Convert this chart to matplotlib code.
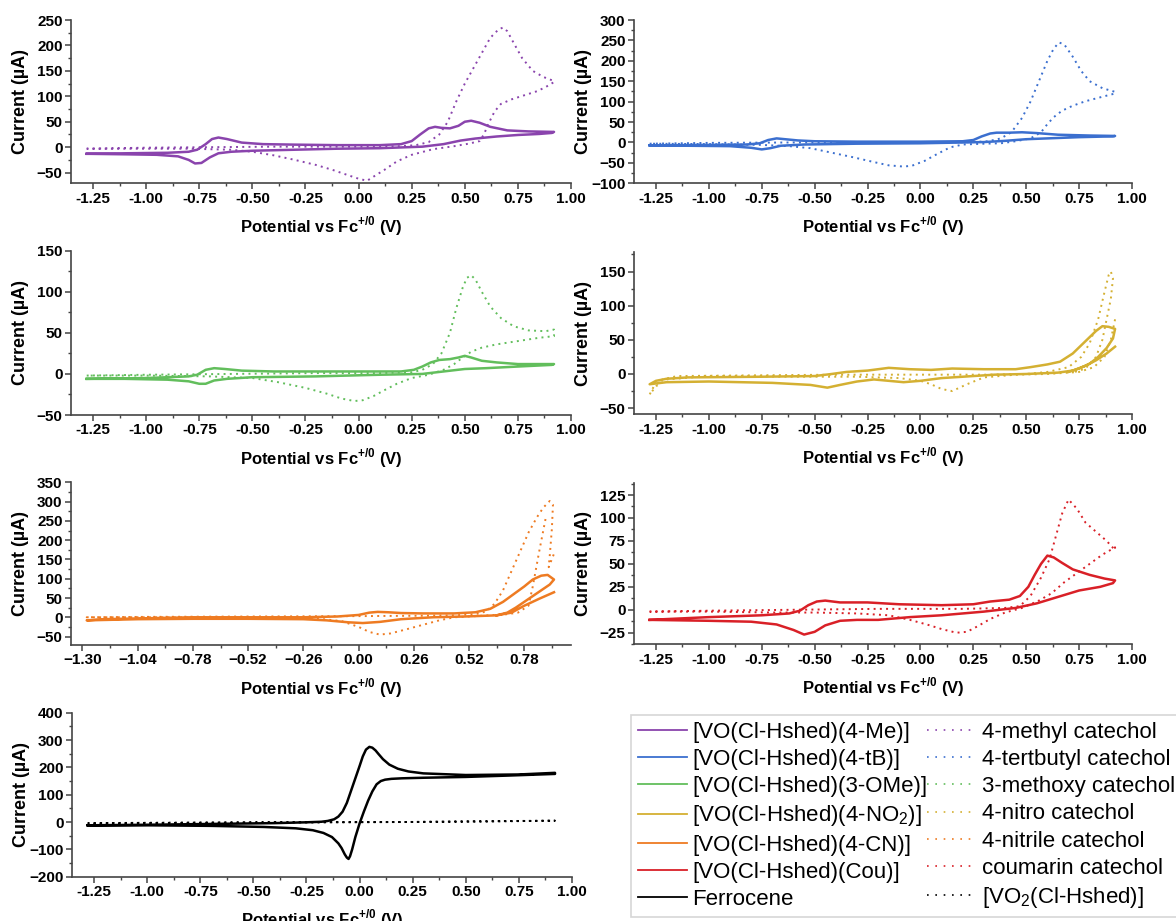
import matplotlib
matplotlib.use("Agg")
import matplotlib.pyplot as plt
from matplotlib.lines import Line2D
from matplotlib.ticker import MultipleLocator, AutoMinorLocator

plt.rcParams['font.family'] = ['Liberation Sans', 'DejaVu Sans']
plt.rcParams['mathtext.fontset'] = 'custom'
plt.rcParams['mathtext.rm'] = 'Liberation Sans'
plt.rcParams['mathtext.bf'] = 'Liberation Sans:bold'

# ---- data (potential V vs Fc, current uA), traced along each CV loop ----
# 4-Me
me_E = [-1.28, -1.1, -0.9, -0.8, -0.76, -0.72, -0.69, -0.66, -0.62, -0.55, -0.45, -0.3, -0.1, 0.1, 0.2, 0.25,
        0.29, 0.33, 0.36, 0.39, 0.43, 0.47, 0.5, 0.53, 0.57, 0.62, 0.7, 0.8, 0.92,
        0.91, 0.85, 0.75, 0.65, 0.55, 0.48, 0.4, 0.3, 0.1, -0.1, -0.3, -0.5, -0.6, -0.66, -0.7, -0.74, -0.77,
        -0.8, -0.85, -0.95, -1.1, -1.28]
me_I = [-13, -12, -11, -9, -5, 6, 16, 19, 16, 9, 6, 5, 4, 4, 6, 12,
        25, 37, 40, 38, 37, 42, 50, 52, 48, 40, 33, 31, 30,
        28, 26, 24, 21, 17, 13, 6, 1, -2, -3, -5, -7, -9, -12, -20, -31, -32,
        -25, -18, -15, -14, -13]
me_cat_E = [-1.28, -1.0, -0.7, -0.4, -0.1, 0.1, 0.2, 0.27, 0.33, 0.38, 0.42, 0.46, 0.5, 0.54, 0.58, 0.62, 0.66,
            0.68, 0.7, 0.73, 0.77, 0.82, 0.87, 0.92,
            0.92, 0.88, 0.84, 0.78, 0.72, 0.67, 0.64, 0.61, 0.59, 0.57, 0.52, 0.45, 0.35, 0.25, 0.18, 0.12, 0.07,
            0.04, 0.0, -0.05, -0.12, -0.2, -0.3, -0.4, -0.5, -0.6, -0.8, -1.0, -1.28]
me_cat_I = [-3, -1, 0, 1, 1, 1, 2, 4, 10, 25, 50, 90, 125, 155, 185, 215, 232,
            235, 228, 205, 175, 150, 138, 130,
            128, 118, 110, 102, 94, 85, 70, 45, 25, 12, 7, 2, -4, -15, -28, -45, -58,
            -66, -62, -55, -45, -35, -25, -16, -9, -5, -3, -3, -3]

# 4-tB
tb_E = [-1.28, -1.0, -0.82, -0.76, -0.72, -0.68, -0.64, -0.58, -0.5, -0.3, 0.0, 0.2, 0.25, 0.29, 0.33, 0.36,
        0.42, 0.48, 0.55, 0.65, 0.8, 0.92,
        0.91, 0.75, 0.6, 0.5, 0.4, 0.3, 0.2, 0.0, -0.3, -0.55, -0.66, -0.71, -0.75, -0.8, -0.9, -1.1, -1.28]
tb_I = [-7, -6, -5, -2, 6, 10, 8, 5, 3, 2, 2, 3, 6, 15, 22, 24,
        24, 25, 23, 19, 17, 16,
        15, 13, 10, 8, 4, 1, 0, -2, -3, -5, -8, -14, -17, -13, -9, -8, -7]
tb_cat_E = [-1.28, -1.0, -0.6, -0.2, 0.1, 0.25, 0.32, 0.38, 0.43, 0.48, 0.52, 0.56, 0.6, 0.63, 0.655, 0.68,
            0.72, 0.76, 0.8, 0.86, 0.92,
            0.92, 0.86, 0.78, 0.72, 0.67, 0.63, 0.6, 0.57, 0.52, 0.45, 0.38, 0.3, 0.2, 0.14, 0.08, 0.02, -0.04,
            -0.08, -0.15, -0.22, -0.32, -0.42, -0.52, -0.62, -0.75, -1.0, -1.28]
tb_cat_I = [-3, -1, 0, 0, 0, 1, 3, 10, 25, 60, 100, 150, 200, 230, 245, 240,
            210, 175, 150, 133, 124,
            120, 112, 101, 90, 78, 62, 45, 25, 10, 3, -2, -3, -5, -12, -28, -45, -57,
            -59, -56, -48, -36, -25, -14, -9, -6, -4, -3]

# 3-OMe
ome_E = [-1.28, -1.0, -0.8, -0.76, -0.72, -0.68, -0.63, -0.55, -0.4, -0.1, 0.2, 0.26, 0.3, 0.34, 0.38, 0.43,
         0.47, 0.5, 0.53, 0.58, 0.65, 0.75, 0.92,
         0.91, 0.75, 0.6, 0.5, 0.4, 0.3, 0.1, -0.2, -0.5, -0.62, -0.68, -0.72, -0.75, -0.8, -0.9, -1.1, -1.28]
ome_I = [-6, -5, -3, -1, 5, 7, 6, 4, 3, 3, 3, 5, 9, 14, 17, 18,
         20, 22, 20, 16, 14, 12, 12,
         11, 9, 7, 6, 3, 0, -1, -3, -4, -6, -8, -12, -12, -9, -7, -6, -6]
ome_cat_E = [-1.28, -1.0, -0.6, -0.2, 0.1, 0.25, 0.3, 0.35, 0.39, 0.43, 0.46, 0.49, 0.51, 0.53, 0.55, 0.58,
             0.62, 0.67, 0.73, 0.8, 0.88, 0.92,
             0.92, 0.85, 0.75, 0.65, 0.58, 0.53, 0.49, 0.45, 0.4, 0.33, 0.25, 0.18, 0.12, 0.07, 0.02, -0.02,
             -0.08, -0.15, -0.25, -0.38, -0.5, -0.7, -1.0, -1.28]
ome_cat_I = [-2, -1, 0, 1, 1, 2, 5, 12, 25, 50, 80, 105, 117, 120, 115, 100,
             82, 68, 58, 53, 52, 54,
             46, 44, 40, 36, 32, 27, 20, 12, 5, -1, -5, -12, -20, -27, -32, -33,
             -30, -24, -17, -10, -5, -3, -2, -2]

# 4-NO2
no2_E = [0.92, 0.88, 0.83, 0.78, 0.72, 0.65, 0.5, 0.35, 0.25, 0.1, 0.0, -0.08, -0.15, -0.22, -0.3, -0.38,
         -0.44, -0.52, -0.7, -1.0, -1.2, -1.28,
         -1.25, -1.2, -1.1, -0.75, -0.5, -0.42, -0.35, -0.25, -0.15, -0.05, 0.05, 0.15, 0.3, 0.45, 0.52, 0.6,
         0.66, 0.72, 0.78, 0.83, 0.86, 0.89, 0.92,
         0.91, 0.88, 0.84, 0.8, 0.75, 0.7]
no2_I = [40, 30, 20, 12, 5, 2, 0, -1, -3, -6, -10, -12, -10, -8, -11, -16,
         -20, -16, -13, -11, -12, -15,
         -10, -7, -5, -4, -3, 0, 3, 5, 9, 7, 6, 8, 7, 7, 10, 14,
         18, 30, 48, 63, 70, 69, 66,
         52, 38, 25, 15, 8, 3]
no2_cat_E = [0.92, 0.9, 0.87, 0.82, 0.75, 0.6, 0.45, 0.3, 0.22, 0.15, 0.1, 0.05, 0.0, -0.1, -0.3, -0.6, -1.0,
             -1.2, -1.25, -1.28,
             -1.26, -1.22, -1.15, -0.8, -0.4, 0.0, 0.3, 0.5, 0.6, 0.7, 0.76, 0.8, 0.84, 0.87, 0.89, 0.9, 0.91,
             0.9, 0.88, 0.86, 0.83, 0.78, 0.72]
no2_cat_I = [80, 50, 25, 10, 3, 0, -1, -5, -15, -25, -22, -15, -10, -6, -4, -4, -3,
             -8, -18, -30,
             -18, -8, -3, -2, -1, -1, -1, 0, 3, 10, 25, 45, 80, 120, 145, 150, 140,
             110, 80, 50, 25, 8, 2]

# 4-CN
cn_E = [0.92, 0.85, 0.78, 0.72, 0.65, 0.5, 0.35, 0.2, 0.1, 0.02, -0.05, -0.15, -0.26, -0.52, -0.78, -1.04, -1.28,
        -1.2, -1.04, -0.78, -0.52, -0.26, -0.1, 0.0, 0.05, 0.09, 0.14, 0.2, 0.3, 0.45, 0.55, 0.62, 0.68, 0.73,
        0.78, 0.82, 0.86, 0.89, 0.92,
        0.9, 0.86, 0.82, 0.78, 0.74, 0.7, 0.65]
cn_I = [65, 48, 30, 12, 5, 2, 0, -5, -12, -15, -13, -8, -5, -4, -4, -5, -8,
        -5, -3, 0, 0, 0, 2, 6, 12, 14, 13, 11, 10, 10, 13, 22, 40, 60,
        80, 98, 108, 110, 98,
        85, 70, 55, 40, 25, 12, 5]
cn_cat_E = [0.88, 0.85, 0.82, 0.8, 0.75, 0.7, 0.55, 0.45, 0.38, 0.3, 0.22, 0.15, 0.1, 0.05, 0.0, -0.08, -0.2,
            -0.5, -1.0, -1.28,
            -1.0, -0.5, 0.0, 0.3, 0.45, 0.55, 0.6, 0.64, 0.68, 0.72, 0.76, 0.8, 0.84, 0.87, 0.9, 0.915,
            0.91, 0.9, 0.895, 0.92]
cn_cat_I = [255, 170, 80, 30, 12, 8, 3, 0, -8, -20, -32, -42, -45, -38, -25, -10, -3,
            -1, 0, 0,
            1, 2, 3, 4, 5, 8, 15, 35, 70, 120, 170, 220, 260, 285, 302, 292,
            230, 160, 130, 165]

# Cou
cou_E = [-1.28, -1.0, -0.75, -0.62, -0.57, -0.53, -0.49, -0.45, -0.38, -0.25, -0.1, 0.1, 0.25, 0.33, 0.42, 0.47,
         0.51, 0.54, 0.57, 0.6, 0.63, 0.67, 0.72, 0.8, 0.87, 0.92,
         0.91, 0.85, 0.75, 0.65, 0.55, 0.45, 0.3, 0.1, -0.05, -0.2, -0.3, -0.38, -0.45, -0.5, -0.55, -0.6, -0.68,
         -0.8, -1.0, -1.28]
cou_I = [-11, -8, -6, -4, -1, 5, 9, 10, 8, 8, 6, 5, 6, 9, 11, 15,
         25, 38, 50, 59, 57, 51, 44, 38, 34, 32,
         29, 25, 21, 14, 7, 2, -2, -6, -8, -11, -11, -12, -17, -24, -27, -22, -16,
         -13, -12, -11]
cou_cat_E = [-1.28, -1.0, -0.6, -0.2, 0.2, 0.4, 0.47, 0.52, 0.57, 0.61, 0.64, 0.67, 0.7, 0.74, 0.78, 0.83, 0.88, 0.92,
             0.92, 0.86, 0.8, 0.74, 0.68, 0.62, 0.56, 0.48, 0.4, 0.33, 0.27, 0.22, 0.17, 0.1, 0.03, -0.05, -0.15,
             -0.3, -0.5, -0.7, -1.0, -1.28]
cou_cat_I = [-2, -1, 0, 1, 1, 2, 4, 15, 35, 55, 80, 105, 120, 110, 95, 85, 75, 65,
             68, 60, 50, 40, 30, 18, 10, 2, -3, -10, -18, -24, -25, -21, -16, -11, -6,
             -4, -3, -3, -2, -2]

# Ferrocene / VO2
fc_E = [-1.28, -1.0, -0.6, -0.4, -0.25, -0.18, -0.15, -0.12, -0.1, -0.08, -0.06, -0.04, -0.02, 0.0, 0.015,
        0.03, 0.046, 0.06, 0.075, 0.09, 0.11, 0.14, 0.18, 0.23, 0.3, 0.4, 0.5, 0.75, 0.92,
        0.92, 0.7, 0.5, 0.3, 0.2, 0.15, 0.12, 0.1, 0.08, 0.06, 0.04, 0.02, 0.0, -0.02, -0.035, -0.045, -0.052,
        -0.06, -0.07, -0.085, -0.1, -0.13, -0.17, -0.22, -0.3, -0.45, -0.7, -1.0, -1.28]
fc_I = [-12, -10, -6, -4, -1, 1, 4, 10, 20, 38, 70, 115, 160, 205, 240,
        265, 275, 272, 262, 248, 230, 210, 195, 185, 178, 175, 172, 174, 180,
        176, 170, 165, 162, 160, 158, 155, 150, 138, 112, 78, 38, -5, -55, -100, -125, -135,
        -130, -118, -95, -78, -55, -40, -30, -23, -18, -14, -12, -12]
vo2_E = [-1.28, -0.8, -0.3, 0.2, 0.6, 0.92, 0.6, 0.2, -0.3, -0.8, -1.28]
vo2_I = [-4, -2, -1, 0, 2, 5, 3, 0, -1, -3, -5]

complex_names = ['[VO(Cl-Hshed)(4-Me)]', '[VO(Cl-Hshed)(4-tB)]', '[VO(Cl-Hshed)(3-OMe)]',
                 '[VO(Cl-Hshed)(4-NO$_2$)]', '[VO(Cl-Hshed)(4-CN)]', '[VO(Cl-Hshed)(Cou)]', 'Ferrocene']
catechol_names = ['4-methyl catechol', '4-tertbutyl catechol', '3-methoxy catechol', '4-nitro catechol',
                  '4-nitrile catechol', 'coumarin catechol', '[VO$_2$(Cl-Hshed)]']
colors = ['#8A44AD', '#3B6FCF', '#62BE5C', '#D4B032', '#EE7B22', '#D92027', '#000000']

ylims = [(-71, 250), (-100, 300), (-50, 150), (-59, 179), (-72, 352), (-37.6, 138.4), (-200, 400)]
ysteps = [50, 50, 50, 50, 50, 25, 100]

# axes boxes in pixels: left, top, right, bottom
boxes = [(71, 20, 571, 183.3), (634, 20, 1132, 183.3),
         (71, 250.7, 571, 415), (634, 251.7, 1132, 414.3),
         (71, 481.7, 571, 645), (634, 482.7, 1132, 644.3),
         (72, 712.7, 572, 876.7)]

W, H = 1176, 921
fig = plt.figure(figsize=(W / 100, H / 100), dpi=100)

panels = [(me_E, me_I, me_cat_E, me_cat_I), (tb_E, tb_I, tb_cat_E, tb_cat_I),
          (ome_E, ome_I, ome_cat_E, ome_cat_I), (no2_E, no2_I, no2_cat_E, no2_cat_I),
          (cn_E, cn_I, cn_cat_E, cn_cat_I), (cou_E, cou_I, cou_cat_E, cou_cat_I),
          (fc_E, fc_I, vo2_E, vo2_I)]

dot = (0, (1, 2.2))
for i, (e, c, ce, ci) in enumerate(panels):
    l, t, r, b = boxes[i]
    ax = fig.add_axes([l / W, 1 - b / H, (r - l) / W, (b - t) / H])
    ax.plot(ce, ci, color=colors[i], lw=1.4, ls=dot)
    ax.plot(e, c, color=colors[i], lw=1.8, solid_joinstyle='round')
    ax.set_xlim(-1.354, 1.0)
    ax.set_ylim(*ylims[i])
    if i == 4:
        ax.set_xticks([-1.30, -1.04, -0.78, -0.52, -0.26, 0.0, 0.26, 0.52, 0.78])
        ax.set_xticklabels(['\u22121.30', '\u22121.04', '\u22120.78', '\u22120.52', '\u22120.26',
                            '0.00', '0.26', '0.52', '0.78'])
    else:
        ax.xaxis.set_major_locator(MultipleLocator(0.25))
        ax.xaxis.set_major_formatter(plt.FormatStrFormatter('%.2f'))
    ax.xaxis.set_minor_locator(AutoMinorLocator(2))
    ax.yaxis.set_major_locator(MultipleLocator(ysteps[i]))
    ax.yaxis.set_minor_locator(AutoMinorLocator(2))
    for s in ['top', 'right']:
        ax.spines[s].set_visible(False)
    for s in ['left', 'bottom']:
        ax.spines[s].set_color('#444444')
        ax.spines[s].set_linewidth(1.2)
    ax.tick_params(which='major', direction='out', length=4, width=1.1, color='#444444',
                   labelsize=11, pad=2)
    ax.tick_params(which='minor', direction='out', length=2.5, width=1.0, color='#444444')
    for lab in ax.get_xticklabels() + ax.get_yticklabels():
        lab.set_fontweight('bold')
    ax.set_xlabel('Potential vs Fc$^{\\mathbf{+/0}}$ (V)', fontsize=12, fontweight='bold')
    ax.set_ylabel('Current (\u00b5A)', fontsize=13, fontweight='bold')
    ph = b - t
    pw = r - l
    ax.xaxis.set_label_coords(0.5, -31 / ph)
    ax.yaxis.set_label_coords(-42 / pw, 0.5)

handles = []
labels = []
for k in range(7):
    handles.append(Line2D([], [], color=colors[k], lw=1.3))
    labels.append(complex_names[k])
for k in range(7):
    handles.append(Line2D([], [], color=colors[k], lw=1.2, ls=(0, (1, 4))))
    labels.append(catechol_names[k])

leg = fig.legend(handles, labels, ncol=2, loc='upper left', bbox_to_anchor=(631 / W, 1 - 715 / H),
                 fontsize=16, frameon=True, fancybox=False, handlelength=2.2, handletextpad=0.25,
                 columnspacing=0.0, labelspacing=0.28, borderpad=0.3, borderaxespad=0)
leg.get_frame().set_edgecolor('#cccccc')
leg.get_frame().set_linewidth(1.2)

fig.savefig('out.png', dpi=100)
